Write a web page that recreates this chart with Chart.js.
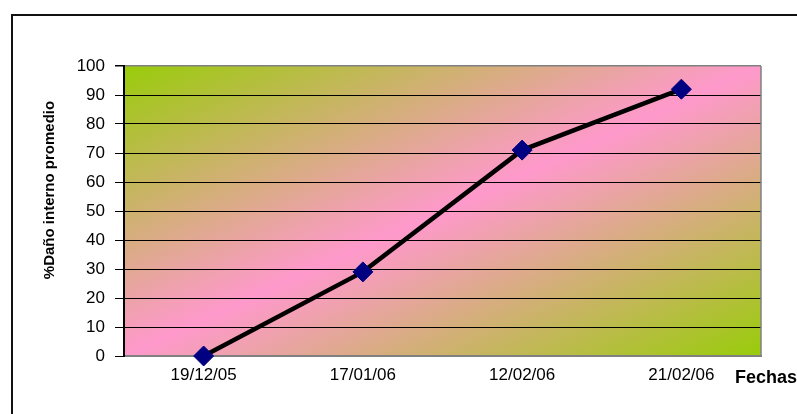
<!DOCTYPE html>
<html><head><meta charset="utf-8">
<script src="https://cdn.jsdelivr.net/npm/chart.js@4.4.0/dist/chart.umd.min.js"></script>
<style>html,body{margin:0;padding:0;background:#fff;} canvas{display:block;}</style>
</head><body>
<canvas id="c" width="797" height="414"></canvas>
<script>
const categories = ['19/12/05', '17/01/06', '12/02/06', '21/02/06'];
const damageValues = [0, 29, 71, 92];
const yMin = 0;
const yMax = 100;
const yStep = 10;
const yAxisTitle = '%Daño interno promedio';
const xAxisTitle = 'Fechas';

const FONT = "'Liberation Sans', Arial, sans-serif";
const GREEN = 'rgb(153,204,10)';
const PINK = 'rgb(255,153,204)';

const decor = {
  id: 'decor',
  beforeDraw(chart) {
    const ctx = chart.ctx;
    const a = chart.chartArea;
    ctx.save();
    ctx.fillStyle = '#fff';
    ctx.fillRect(0, 0, chart.width, chart.height);
    ctx.strokeStyle = '#111';
    ctx.lineWidth = 2;
    ctx.strokeRect(12, 15, 900, 500);
    const W = a.right - a.left, H = a.bottom - a.top;
    const k = 2 * W * H / (W * W + H * H);
    const g = ctx.createLinearGradient(a.left, a.top, a.left + H * k, a.top + W * k);
    g.addColorStop(0, GREEN);
    g.addColorStop(0.5, PINK);
    g.addColorStop(1, GREEN);
    ctx.fillStyle = g;
    ctx.fillRect(a.left, a.top, W, H);
    ctx.restore();
  },
  beforeDatasetsDraw(chart) {
    const ctx = chart.ctx;
    const a = chart.chartArea;
    ctx.save();
    ctx.strokeStyle = '#808080';
    ctx.lineWidth = 1.5;
    ctx.beginPath();
    ctx.moveTo(a.right, a.top);
    ctx.lineTo(a.right, a.bottom);
    ctx.stroke();
    ctx.restore();
  },
  afterDraw(chart) {
    const ctx = chart.ctx;
    ctx.save();
    ctx.fillStyle = '#000';
    ctx.font = 'bold 18px ' + FONT;
    ctx.textAlign = 'left';
    ctx.textBaseline = 'alphabetic';
    ctx.fillText(xAxisTitle, 735, 383);
    ctx.translate(54, 190);
    ctx.rotate(-Math.PI / 2);
    ctx.textAlign = 'center';
    ctx.font = 'bold 15px ' + FONT;
    ctx.fillText(yAxisTitle, 0, 0);
    ctx.restore();
  }
};

new Chart(document.getElementById('c'), {
  type: 'line',
  data: {
    labels: categories,
    datasets: [{
      data: damageValues,
      borderColor: '#000',
      borderWidth: 4.5,
      tension: 0,
      fill: false,
      pointStyle: 'rectRot',
      pointRadius: 10,
      pointHoverRadius: 10,
      pointBackgroundColor: '#000080',
      pointBorderColor: '#000080',
      pointBorderWidth: 1,
      clip: false
    }]
  },
  options: {
    responsive: false,
    animation: false,
    devicePixelRatio: 1,
    layout: { padding: { left: 0, top: 66, right: 36, bottom: 0 } },
    plugins: { legend: { display: false }, tooltip: { enabled: false } },
    scales: {
      x: {
        offset: true,
        grid: { display: true, color: 'rgba(0,0,0,0)', drawTicks: false },
        border: { display: true, color: '#808080', width: 2 },
        ticks: { color: '#000', font: { family: FONT, size: 17 }, padding: 9, maxRotation: 0, autoSkip: false },
        afterFit(s) { s.height = 58; }
      },
      y: {
        min: yMin,
        max: yMax,
        grid: {
          color: (c) => (c.tick && (c.tick.value === yMin || c.tick.value === yMax)) ? '#808080' : '#000',
          lineWidth: (c) => (c.tick && c.tick.value === yMax) ? 1.5 : 1,
          tickColor: '#000',
          tickLength: 9,
          drawTicks: true
        },
        border: { display: true, color: '#000', width: 2 },
        ticks: { stepSize: yStep, color: '#000', font: { family: FONT, size: 17 }, padding: 10 },
        afterFit(s) { s.width = 124; }
      }
    }
  },
  plugins: [decor]
});
</script>
</body></html>
